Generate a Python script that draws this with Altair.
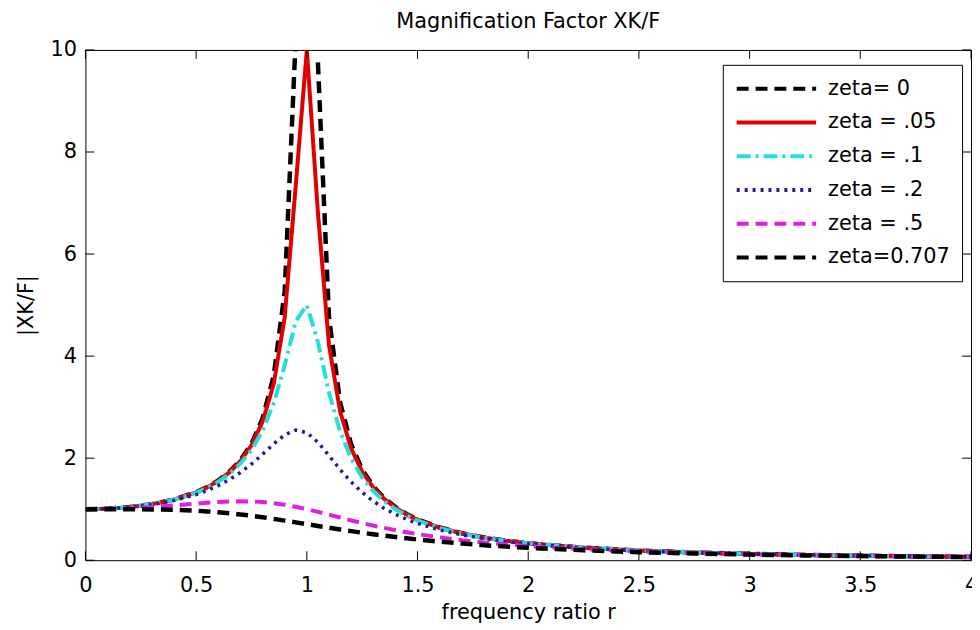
import altair as alt
import pandas as pd

# frequency ratio samples
r = [0, 0.1, 0.2, 0.3, 0.4, 0.5, 0.55, 0.6, 0.65, 0.7, 0.75, 0.8, 0.85, 0.9, 0.95,
     1.0, 1.05, 1.1, 1.15, 1.2, 1.25, 1.3, 1.35, 1.4, 1.45, 1.5, 1.6, 1.7, 1.8, 1.9,
     2.0, 2.25, 2.5, 2.75, 3.0, 3.25, 3.5, 3.75, 4.0]

zeta_0 = [1.000, 1.010, 1.042, 1.099, 1.190, 1.333, 1.434, 1.563, 1.732, 1.961, 2.286,
          2.778, 3.604, 5.263, 10.256, None, 9.756, 4.762, 3.101, 2.273, 1.778, 1.449,
          1.216, 1.042, 0.907, 0.800, 0.641, 0.529, 0.446, 0.383, 0.333, 0.246, 0.190,
          0.152, 0.125, 0.105, 0.089, 0.077, 0.067]
zeta_005 = [1.000, 1.010, 1.041, 1.098, 1.189, 1.330, 1.429, 1.556, 1.721, 1.943, 2.253,
            2.712, 3.446, 4.757, 7.346, 10.000, 6.815, 4.218, 2.921, 2.193, 1.735, 1.424,
            1.200, 1.031, 0.899, 0.794, 0.638, 0.527, 0.445, 0.382, 0.333, 0.246, 0.190,
            0.152, 0.125, 0.105, 0.089, 0.077, 0.067]
zeta_01 = [1.000, 1.010, 1.041, 1.097, 1.185, 1.322, 1.416, 1.536, 1.689, 1.891, 2.162,
           2.538, 3.073, 3.821, 4.683, 5.000, 4.279, 3.288, 2.524, 1.995, 1.625, 1.356,
           1.155, 1.000, 0.877, 0.778, 0.628, 0.521, 0.441, 0.379, 0.330, 0.245, 0.190,
           0.152, 0.125, 0.104, 0.089, 0.076, 0.067]
zeta_02 = [1.000, 1.009, 1.038, 1.089, 1.169, 1.288, 1.367, 1.463, 1.579, 1.719, 1.885,
           2.076, 2.279, 2.457, 2.549, 2.500, 2.313, 2.051, 1.780, 1.536, 1.329, 1.157,
           1.016, 0.900, 0.803, 0.721, 0.593, 0.498, 0.425, 0.368, 0.322, 0.240, 0.187,
           0.150, 0.124, 0.104, 0.088, 0.076, 0.066]
zeta_05 = [1.000, 1.005, 1.020, 1.044, 1.075, 1.109, 1.126, 1.140, 1.150, 1.155, 1.152,
           1.140, 1.118, 1.087, 1.047, 1.000, 0.948, 0.893, 0.837, 0.782, 0.730, 0.679,
           0.633, 0.589, 0.549, 0.512, 0.448, 0.393, 0.348, 0.310, 0.277, 0.215, 0.172,
           0.141, 0.117, 0.099, 0.085, 0.074, 0.064]
zeta_0707 = [1.000, 1.000, 0.999, 0.996, 0.987, 0.970, 0.957, 0.941, 0.921, 0.898, 0.872,
             0.842, 0.811, 0.777, 0.742, 0.707, 0.672, 0.637, 0.603, 0.570, 0.539, 0.509,
             0.481, 0.454, 0.430, 0.406, 0.364, 0.327, 0.295, 0.267, 0.243, 0.194, 0.158,
             0.131, 0.110, 0.094, 0.081, 0.071, 0.062]

labels = ["zeta= 0", "zeta = .05", "zeta = .1", "zeta = .2", "zeta = .5", "zeta=0.707"]
series = [zeta_0, zeta_005, zeta_01, zeta_02, zeta_05, zeta_0707]
colors = ["#000000", "#e00000", "#22dede", "#1c1c9c", "#e01ee0", "#000000"]
dashes = [[12, 7], [1, 0], [14, 5, 3, 5], [3, 5], [12, 7], [12, 7]]
widths = [4.5, 4, 4, 3.5, 4, 4.5]

x_ticks = [0, 0.5, 1, 1.5, 2, 2.5, 3, 3.5, 4]
y_ticks = [0, 2, 4, 6, 8, 10]

FONT = "DejaVu Sans"
W, H = 892, 514

xscale = alt.Scale(domain=[0, 4], nice=False, zero=False)
yscale = alt.Scale(domain=[0, 10], nice=False, zero=False)
cscale = alt.Scale(domain=labels, range=colors)
dscale = alt.Scale(domain=labels, range=dashes)

legend = alt.Legend(
    title=None, orient="none", legendX=642, legendY=15,
    fillColor="white", strokeColor="black", padding=12,
    symbolType="stroke", symbolSize=6400, symbolStrokeWidth=4, clipHeight=24,
    rowPadding=10, labelOffset=10, labelFont=FONT, labelFontSize=21,
    labelColor="black", labelLimit=0,
)

xaxis = alt.Axis(
    values=x_ticks, format=".2~f", title="frequency ratio r", grid=False, domain=False,
    ticks=False, tickSize=0, labelPadding=14, labelFlush=False, labelFont=FONT,
    labelFontSize=21, labelColor="black", titleFont=FONT, titleFontSize=21,
    titleFontWeight="normal", titleColor="black", titleY=59, titleBaseline="alphabetic",
)
yaxis = alt.Axis(
    values=y_ticks, format=".2~f", title="|XK/F|", grid=False, domain=False,
    ticks=False, tickSize=0, labelPadding=9, labelFlush=False, labelFont=FONT,
    labelFontSize=21, labelColor="black", titleFont=FONT, titleFontSize=21,
    titleFontWeight="normal", titleColor="black", titleX=-59, titleY=H / 2,
    titleAngle=-90, titleAlign="center", titleBaseline="middle",
)

layers = []
for i, (lab, vals) in enumerate(zip(labels, series)):
    rows = []
    seg = 0
    for rv, m in zip(r, vals):
        if m is None:
            seg += 1
            continue
        rows.append({"r": rv, "mag": m, "series": lab, "seg": f"s{i}_{seg}"})
    df = pd.DataFrame(rows)
    layer = alt.Chart(df).mark_line(clip=True, strokeWidth=widths[i]).encode(
        x=alt.X("r:Q", scale=xscale, axis=xaxis),
        y=alt.Y("mag:Q", scale=yscale, axis=yaxis),
        color=alt.Color("series:N", scale=cscale, legend=legend),
        strokeDash=alt.StrokeDash("series:N", scale=dscale, legend=legend),
        detail="seg:N",
    )
    layers.append(layer)

xt = pd.DataFrame({"t": x_ticks})
yt = pd.DataFrame({"t": y_ticks})
tick_style = dict(color="black", strokeWidth=1)
bottom_ticks = alt.Chart(xt).mark_rule(**tick_style).encode(
    x=alt.X("t:Q", scale=xscale, axis=xaxis), y=alt.value(H), y2=alt.value(H - 9))
top_ticks = alt.Chart(xt).mark_rule(**tick_style).encode(
    x=alt.X("t:Q", scale=xscale, axis=xaxis), y=alt.value(0), y2=alt.value(9))
left_ticks = alt.Chart(yt).mark_rule(**tick_style).encode(
    y=alt.Y("t:Q", scale=yscale, axis=yaxis), x=alt.value(0), x2=alt.value(9))
right_ticks = alt.Chart(yt).mark_rule(**tick_style).encode(
    y=alt.Y("t:Q", scale=yscale, axis=yaxis), x=alt.value(W), x2=alt.value(W - 9))

chart = alt.layer(
    *layers, bottom_ticks, top_ticks, left_ticks, right_ticks
).properties(
    width=W, height=H,
    title=alt.TitleParams("Magnification Factor XK/F", font=FONT, fontSize=21,
                          fontWeight="normal", color="black", anchor="middle",
                          baseline="alphabetic", offset=20, dy=30),
    autosize=alt.AutoSizeParams(type="none"),
    padding={"left": 78, "top": 40, "right": 1, "bottom": 64},
    background="white",
).configure_view(stroke="black", strokeWidth=1)

chart.save("out.html", embed_options={"renderer": "svg", "actions": False})
